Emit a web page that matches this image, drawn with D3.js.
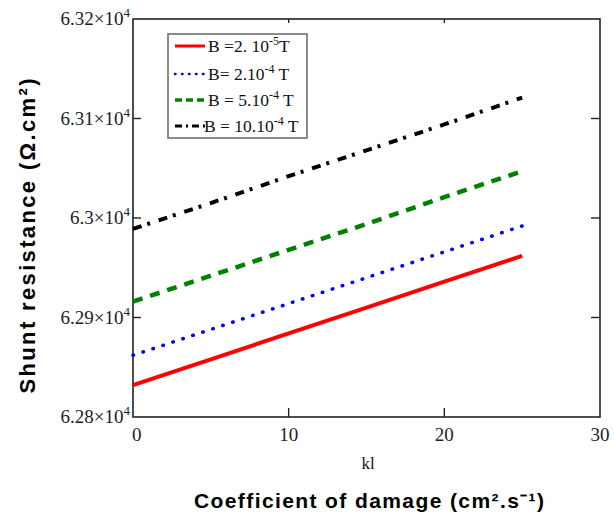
<!DOCTYPE html>
<html>
<head>
<meta charset="utf-8">
<script src="https://cdn.jsdelivr.net/npm/d3@7"></script>
<style>
  body { margin: 0; background: #fff; }
</style>
</head>
<body>
<svg id="chart"></svg>
<script>
// values
var kl = [0, 5, 10, 15, 20, 25];
var r_b1 = [62832, 62858, 62884, 62910, 62936, 62962];
var r_b2 = [62862, 62888, 62914, 62940, 62966, 62992];
var r_b3 = [62916, 62942, 62968, 62994, 63021, 63047];
var r_b4 = [62989, 63015, 63042, 63068, 63094, 63121];
var legend_main = ["B =2. 10", "B= 2.10", "B = 5.10", "B = 10.10"];
var legend_exp = ["-5", "-4", "-4", "-4"];
var y_ticks = [62800, 62900, 63000, 63100, 63200];
var y_tick_mant = ["6.28", "6.29", "6.3", "6.31", "6.32"];
var x_ticks = [0, 10, 20, 30];

var series = [
  { vals: r_b1, col: "#ff0000", w: 4, dash: null },
  { vals: r_b2, col: "#0000ff", w: 3.5, dash: "0.5,10" },
  { vals: r_b3, col: "#008000", w: 4.5, dash: "10,8" },
  { vals: r_b4, col: "#000000", w: 4, dash: "9,6,3,9" }
];

var width = 614, height = 513;
var p_left = 133, p_right = 600, p_top = 19, p_bottom = 417;

var svg = d3.select("#chart").attr("width", width).attr("height", height);

var x = d3.scaleLinear().domain([0, 30]).range([p_left, p_right]);
var y = d3.scaleLinear().domain([62800, 63200]).range([p_bottom, p_top]);

// frame
svg.append("rect")
  .attr("x", p_left).attr("y", p_top)
  .attr("width", p_right - p_left).attr("height", p_bottom - p_top)
  .attr("fill", "none").attr("stroke", "#222").attr("stroke-width", 1.6);

// ticks inside the frame
var inner_y = y_ticks.slice(1, -1);
var inner_x = x_ticks.slice(1, -1);
svg.selectAll(".ytl").data(inner_y).enter().append("line")
  .attr("x1", p_left).attr("x2", p_left + 8)
  .attr("y1", d => y(d)).attr("y2", d => y(d))
  .attr("stroke", "#222").attr("stroke-width", 1.4);
svg.selectAll(".ytr").data(inner_y).enter().append("line")
  .attr("x1", p_right).attr("x2", p_right - 9)
  .attr("y1", d => y(d)).attr("y2", d => y(d))
  .attr("stroke", "#222").attr("stroke-width", 1.4);
svg.selectAll(".xtb").data(inner_x).enter().append("line")
  .attr("x1", d => x(d)).attr("x2", d => x(d))
  .attr("y1", p_bottom).attr("y2", p_bottom - 9)
  .attr("stroke", "#222").attr("stroke-width", 1.4);
svg.selectAll(".xtt").data(inner_x).enter().append("line")
  .attr("x1", d => x(d)).attr("x2", d => x(d))
  .attr("y1", p_top).attr("y2", p_top + 4)
  .attr("stroke", "#222").attr("stroke-width", 1.4);

// y tick labels
var ylab = svg.selectAll(".ylab").data(y_ticks).enter().append("text")
  .attr("x", p_left - 3)
  .attr("y", d => y(d) + 6)
  .attr("text-anchor", "end")
  .attr("font-family", "Liberation Serif, serif")
  .attr("font-size", "19px")
  .attr("fill", "#1c1c2c");
ylab.append("tspan").text((d, i) => y_tick_mant[i] + "\u00d710");
ylab.append("tspan").attr("dy", -8).attr("font-size", "13px").text("4");

// x tick labels
svg.selectAll(".xlab").data(x_ticks).enter().append("text")
  .attr("x", d => x(d))
  .attr("y", 441)
  .attr("text-anchor", d => d === 0 ? "start" : "middle")
  .attr("dx", d => d === 0 ? -1 : 0)
  .attr("font-family", "Liberation Serif, serif")
  .attr("font-size", "19px")
  .attr("fill", "#1c1c2c")
  .text(d => d);

// lines
var line = d3.line().x((d, i) => x(kl[i])).y(d => y(d));
svg.selectAll(".series").data(series).enter().append("path")
  .attr("d", d => line(d.vals))
  .attr("fill", "none")
  .attr("stroke", d => d.col)
  .attr("stroke-width", d => d.w)
  .attr("stroke-dasharray", d => d.dash)
  .attr("stroke-linecap", d => d.dash === "0.5,10" ? "round" : "butt");

// legend
var lg = svg.append("g");
lg.append("rect")
  .attr("x", 168).attr("y", 34).attr("width", 139).attr("height", 104)
  .attr("fill", "#fff").attr("stroke", "#666").attr("stroke-width", 1.5);
var rows = lg.selectAll(".row").data(series).enter().append("g")
  .attr("transform", (d, i) => "translate(0," + [46, 74, 100, 126][i] + ")");
rows.append("line")
  .attr("x1", 175).attr("x2", 205).attr("y1", 0).attr("y2", 0)
  .attr("stroke", d => d.col)
  .attr("stroke-width", d => d.w - 1)
  .attr("stroke-linecap", d => d.dash === "0.5,10" ? "round" : "butt")
  .attr("stroke-dasharray", d => d.dash === "0.5,10" ? "0.5,6.5" : d.dash === "10,8" ? "7,4" : d.dash ? "7,4,2,4" : null);
var lt = rows.append("text")
  .attr("x", (d, i) => i === 3 ? 204 : 208).attr("y", 6)
  .attr("font-family", "Liberation Serif, serif")
  .attr("font-size", "17.5px")
  .attr("fill", "#111");
lt.append("tspan").text((d, i) => legend_main[i]);
lt.append("tspan").attr("dy", -7).attr("font-size", "12px").text((d, i) => legend_exp[i]);
lt.append("tspan").attr("dy", 7).text((d, i) => i === 0 ? "T" : " T");

// axis titles
svg.append("text")
  .attr("x", 368).attr("y", 469)
  .attr("text-anchor", "middle")
  .attr("font-family", "Liberation Serif, serif")
  .attr("font-size", "17px")
  .attr("fill", "#111")
  .text("kl");

svg.append("text")
  .attr("x", 369).attr("y", 508)
  .attr("text-anchor", "middle")
  .attr("font-family", "Liberation Sans, Arial, sans-serif")
  .attr("font-weight", "bold")
  .attr("font-size", "21px")
  .attr("textLength", 350)
  .attr("lengthAdjust", "spacing")
  .attr("fill", "#000")
  .text("Coefficient of damage (cm\u00b2.s\u207b\u00b9)");

svg.append("text")
  .attr("transform", "translate(35,236) rotate(-90)")
  .attr("text-anchor", "middle")
  .attr("font-family", "Liberation Sans, Arial, sans-serif")
  .attr("font-weight", "bold")
  .attr("font-size", "22px")
  .attr("textLength", 315)
  .attr("lengthAdjust", "spacing")
  .attr("fill", "#000")
  .text("Shunt resistance (\u03a9.cm\u00b2)");
</script>
</body>
</html>
